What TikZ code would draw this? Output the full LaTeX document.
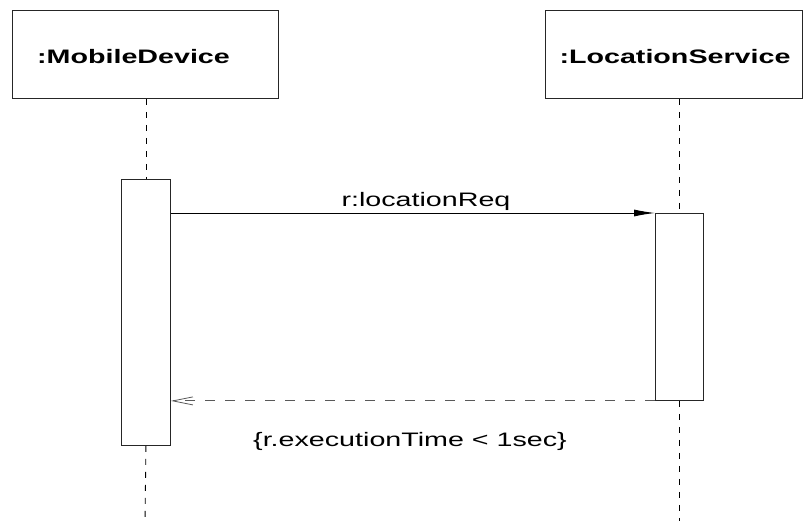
\documentclass[tikz,border=0pt]{standalone}
\usepackage{fontspec}
\usepackage{graphicx}
\setmainfont{Liberation Sans}
\usetikzlibrary{arrows.meta}
\newcommand{\wide}[1]{\scalebox{1.47}[1]{#1}}
\begin{document}
\begin{tikzpicture}[x=1pt,y=-1pt,
  objbox/.style={draw=black!85, line width=0.9pt, fill=white, inner sep=0pt, anchor=north west},
  actbox/.style={draw=black!85, line width=0.9pt, fill=white, inner sep=0pt, anchor=north west},
  lifeline/.style={draw=black, line width=0.9pt, dash pattern=on 6pt off 7pt},
  callmsg/.style={draw=black, line width=0.9pt, -{Latex[length=21pt,width=7pt]}},
  replymsg/.style={draw=black!65, line width=0.9pt, dash pattern=on 10pt off 10pt, -{Straight Barb[length=20pt,width=8pt,line width=0.8pt]}},
  objlabel/.style={anchor=base, inner sep=0pt, font=\fontsize{19.5pt}{22pt}\selectfont\bfseries},
  msglabel/.style={anchor=base, inner sep=0pt, font=\fontsize{19.5pt}{22pt}\selectfont}
]
\useasboundingbox[fill=white] (0,0) rectangle (803,521);

% lifeline end points
\coordinate (md-end) at (145,521);
\coordinate (ls-end) at (679,521);

% object boxes
\node[objbox, minimum width=266pt, minimum height=88pt] (md) at (12,10) {};
\node[objbox, minimum width=257pt, minimum height=88pt] (ls) at (545,10) {};

% activation boxes
\node[actbox, minimum width=49pt, minimum height=266pt] (act1) at (121,179) {};
\node[actbox, minimum width=48pt, minimum height=187pt] (act2) at (655,213) {};

% lifelines
\draw[lifeline] (md.south -| act1.north) -- (act1.north);
\draw[lifeline] (act1.south) -- (md-end);
\draw[lifeline] (ls-end |- ls.south) -- (ls-end |- act2.north);
\draw[lifeline] (ls-end |- act2.south) -- (ls-end);

% labels of objects
\node[objlabel] (mdlabel) at (133.5,64) {\wide{:MobileDevice}};
\node[objlabel] (lslabel) at (675,64) {\wide{:LocationService}};

% messages
\draw[callmsg] (act1.east |- act2.north) -- (act2.north west);
\draw[replymsg] (act2.south west) -- (act1.east |- act2.south);

\node[msglabel] (reqlabel) at (426,207) {\wide{r:locationReq}};
\node[msglabel] (constraint) at (410,446) {\wide{\{r.executionTime < 1sec\}}};
\end{tikzpicture}
\end{document}
